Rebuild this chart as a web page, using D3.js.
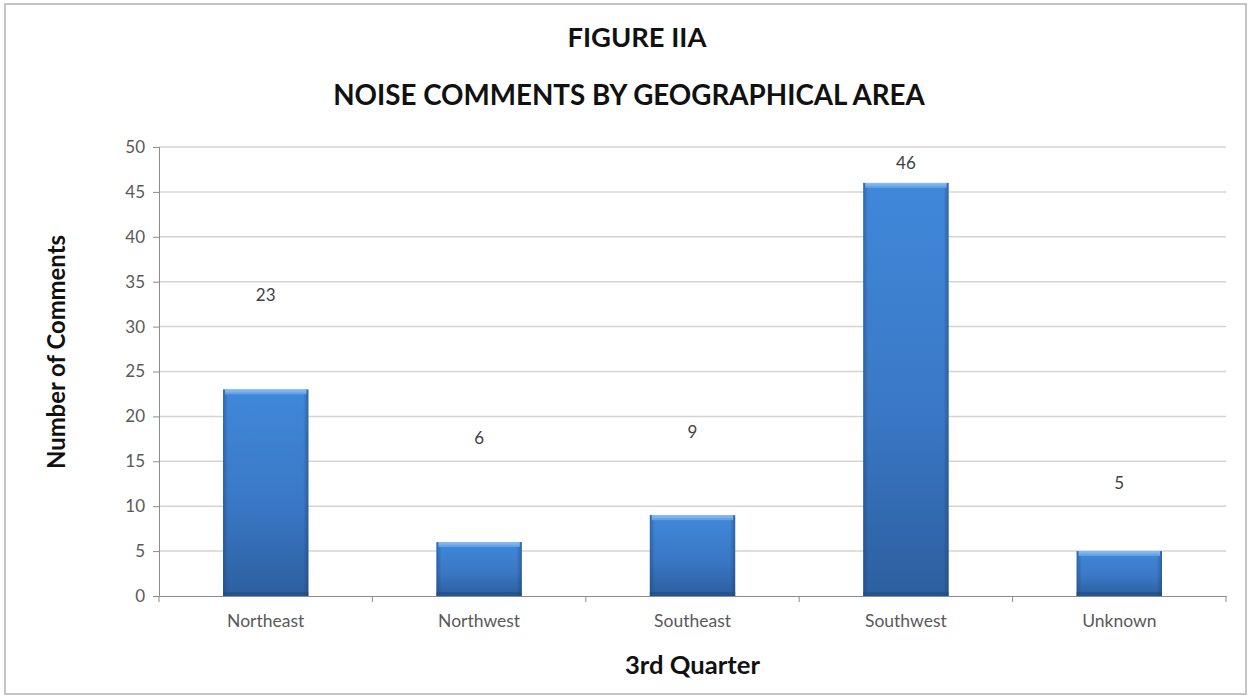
<!DOCTYPE html>
<html>
<head>
<meta charset="utf-8">
<script src="https://cdn.jsdelivr.net/npm/d3@7"></script>
<style>
  html, body { margin: 0; padding: 0; background: #fff; }
  svg { display: block; }
</style>
</head>
<body>
<svg id="chart" width="1249" height="696"></svg>
<script>
// ---- data ----
const categories = ["Northeast", "Northwest", "Southeast", "Southwest", "Unknown"];
const values = [23, 6, 9, 46, 5];
// value-axis height at which each data label sits in the original
const labelLevels = [33.5, 17.6, 18.3, 48.2, 12.6];
const yTicks = [0, 5, 10, 15, 20, 25, 30, 35, 40, 45, 50];
const titleLine1 = "FIGURE IIA";
const titleLine2 = "NOISE COMMENTS BY GEOGRAPHICAL AREA";
const xTitle = "3rd Quarter";
const yTitle = "Number of Comments";

// ---- layout ----
const W = 1249, H = 696;
const plot = { left: 159, right: 1226, top: 147, bottom: 596 };
const font = "Lato, 'Open Sans', sans-serif";

const svg = d3.select("#chart");

// outer frame
svg.append("rect")
  .attr("x", 5).attr("y", 4).attr("width", W - 8).attr("height", H - 6)
  .attr("fill", "#fff").attr("stroke", "#c4c4c4").attr("stroke-width", 2);

const x = d3.scaleBand().domain(categories).range([plot.left, plot.right]).padding(0);
const y = d3.scaleLinear().domain([0, 50]).range([plot.bottom, plot.top]);

// gradients
const defs = svg.append("defs");
const gv = defs.append("linearGradient").attr("id", "barV").attr("x1", 0).attr("y1", 0).attr("x2", 0).attr("y2", 1);
gv.append("stop").attr("offset", "0%").attr("stop-color", "#4088da");
gv.append("stop").attr("offset", "55%").attr("stop-color", "#3a78c6");
gv.append("stop").attr("offset", "100%").attr("stop-color", "#2c5f9f");
const gh = defs.append("linearGradient").attr("id", "barH").attr("x1", 0).attr("y1", 0).attr("x2", 1).attr("y2", 0);
gh.append("stop").attr("offset", "0%").attr("stop-color", "#1d3f6e").attr("stop-opacity", 0.45);
gh.append("stop").attr("offset", "6%").attr("stop-color", "#1d3f6e").attr("stop-opacity", 0.0);
gh.append("stop").attr("offset", "94%").attr("stop-color", "#1d3f6e").attr("stop-opacity", 0.0);
gh.append("stop").attr("offset", "100%").attr("stop-color", "#1d3f6e").attr("stop-opacity", 0.5);
const gt = defs.append("linearGradient").attr("id", "barTop").attr("x1", 0).attr("y1", 0).attr("x2", 0).attr("y2", 1);
gt.append("stop").attr("offset", "0%").attr("stop-color", "#8ec0f2");
gt.append("stop").attr("offset", "100%").attr("stop-color", "#5a9be4");

// gridlines
svg.append("g").selectAll("line").data(yTicks.filter(d => d > 0)).join("line")
  .attr("x1", plot.left).attr("x2", plot.right)
  .attr("y1", d => y(d)).attr("y2", d => y(d))
  .attr("stroke", "#d4d4d4").attr("stroke-width", 1.5);

// y axis
const yAxis = svg.append("g").attr("transform", `translate(${plot.left},0)`)
  .call(d3.axisLeft(y).tickValues(yTicks).tickSize(6).tickPadding(8));
yAxis.select(".domain").attr("stroke", "#8c8c8c").attr("stroke-width", 1);
yAxis.selectAll(".tick line").attr("stroke", "#8c8c8c");
yAxis.selectAll("text").attr("fill", "#595959").style("font-family", font).style("font-size", "17px");

// x axis
const xAxis = svg.append("g").attr("transform", `translate(0,${plot.bottom})`)
  .call(d3.axisBottom(x).tickSize(0).tickPadding(19));
xAxis.select(".domain").attr("stroke", "#8c8c8c").attr("stroke-width", 1);
xAxis.selectAll("text").attr("fill", "#595959").style("font-family", font).style("font-size", "17.5px");
// boundary ticks
const bounds = categories.map(c => x(c)).concat([plot.right]);
svg.append("g").selectAll("line").data(bounds).join("line")
  .attr("x1", d => d).attr("x2", d => d)
  .attr("y1", plot.bottom).attr("y2", plot.bottom + 6)
  .attr("stroke", "#8c8c8c");

// bars
const bw = x.bandwidth() * 0.4;
const bars = svg.append("g").selectAll("g").data(categories).join("g");
bars.append("rect")
  .attr("x", d => x(d) + (x.bandwidth() - bw) / 2)
  .attr("y", (d, i) => y(values[i]))
  .attr("width", bw)
  .attr("height", (d, i) => y(0) - y(values[i]))
  .attr("fill", "url(#barV)");
bars.append("rect")
  .attr("x", d => x(d) + (x.bandwidth() - bw) / 2)
  .attr("y", (d, i) => y(values[i]))
  .attr("width", bw)
  .attr("height", (d, i) => y(0) - y(values[i]))
  .attr("fill", "url(#barH)");
bars.append("rect")
  .attr("x", d => x(d) + (x.bandwidth() - bw) / 2 + 2)
  .attr("y", (d, i) => y(values[i]))
  .attr("width", bw - 4)
  .attr("height", 5)
  .attr("fill", "url(#barTop)");
bars.append("rect")
  .attr("x", d => x(d) + (x.bandwidth() - bw) / 2)
  .attr("y", (d, i) => y(0) - 4)
  .attr("width", bw)
  .attr("height", 4)
  .attr("fill", "#1f4a80").attr("opacity", 0.55);

// data labels
svg.append("g").selectAll("text").data(categories).join("text")
  .attr("x", d => x(d) + x.bandwidth() / 2)
  .attr("y", (d, i) => y(labelLevels[i]))
  .attr("dy", "0.35em")
  .attr("text-anchor", "middle")
  .attr("fill", "#404040")
  .style("font-family", font).style("font-size", "17px")
  .text((d, i) => values[i]);

// titles
function fitText(sel, target) {
  const len = sel.node().getComputedTextLength();
  const fs = parseFloat(sel.style("font-size"));
  sel.style("font-size", (fs * target / len) + "px");
}
const t1 = svg.append("text").attr("x", 637).attr("y", 37).attr("dy", "0.36em")
  .attr("text-anchor", "middle").attr("fill", "#111")
  .style("font-family", font).style("font-weight", "bold").style("font-size", "26px")
  .text(titleLine1);
fitText(t1, 139);
const t2 = svg.append("text").attr("x", 629).attr("y", 95).attr("dy", "0.36em")
  .attr("text-anchor", "middle").attr("fill", "#111")
  .style("font-family", font).style("font-weight", "bold").style("font-size", "26px")
  .text(titleLine2);
fitText(t2, 592);

const xt = svg.append("text").attr("x", (plot.left + plot.right) / 2).attr("y", 665).attr("dy", "0.36em")
  .attr("text-anchor", "middle").attr("fill", "#111")
  .style("font-family", font).style("font-weight", "bold").style("font-size", "22px")
  .text(xTitle);
fitText(xt, 135);

const yt = svg.append("text")
  .attr("transform", "translate(56,352) rotate(-90)")
  .attr("dy", "0.36em")
  .attr("text-anchor", "middle").attr("fill", "#111")
  .style("font-family", font).style("font-weight", "bold").style("font-size", "22px")
  .text(yTitle);
fitText(yt, 234);
</script>
</body>
</html>
